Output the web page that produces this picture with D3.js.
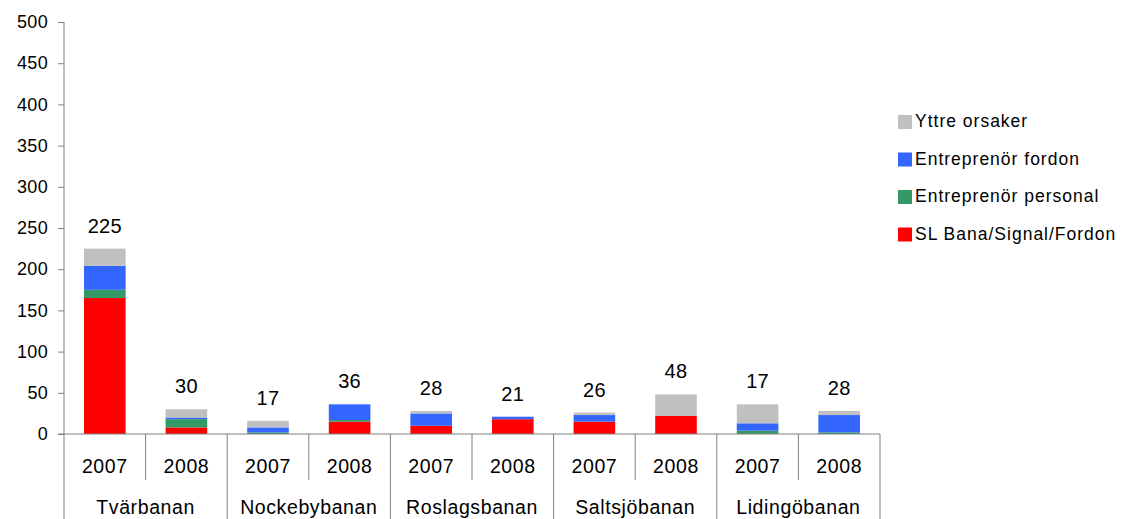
<!DOCTYPE html>
<html><head><meta charset="utf-8">
<script src="https://cdn.jsdelivr.net/npm/d3@7"></script>
<style>
html,body{margin:0;padding:0;background:#fff;}
svg{display:block;font-family:"Liberation Sans",Arial,sans-serif;}
</style></head>
<body><svg id="c" width="1121" height="519"></svg>
<script>
const groups = ["Tvärbanan","Nockebybanan","Roslagsbanan","Saltsjöbanan","Lidingöbanan"];
const years = ["2007","2008"];
const seriesNames = ["SL Bana/Signal/Fordon","Entreprenör personal","Entreprenör fordon","Yttre orsaker"];
const slBana     = [165, 8, 0, 15, 10, 18, 15, 22, 0, 0];
const entPersonal= [10, 10, 2, 2, 0, 0, 0, 0, 4, 2];
const entFordon  = [29, 2, 6, 19, 15, 3, 8, 0, 9, 21];
const yttre      = [21, 10, 8, 0, 3, 0, 3, 26, 23, 5];
const valueLabels= [225, 30, 17, 36, 28, 21, 26, 48, 17, 28];
const yTicks = [0,50,100,150,200,250,300,350,400,450,500];
const colors = ["#FF0000","#339966","#3366FF","#C0C0C0"];

const svg = d3.select("#c");
const L=64, R=880, T=22, B=434;
const cats = [];
groups.forEach((g,gi)=>years.forEach((y,yi)=>cats.push(gi*2+yi)));
const x = d3.scaleBand().domain(cats).range([L,R]).paddingInner(0.49).paddingOuter(0.245);
const xb = d3.scaleBand().domain(cats).range([L,R]);
const y = d3.scaleLinear().domain([0,500]).range([B,T]);

const rows = cats.map(i=>({i, sl:slBana[i], ep:entPersonal[i], ef:entFordon[i], yt:yttre[i]}));
const stack = d3.stack().keys(["sl","ep","ef","yt"])(rows);
svg.append("g").selectAll("g").data(stack).join("g").attr("fill",(d,k)=>colors[k])
  .selectAll("rect").data(d=>d).join("rect")
  .attr("x",d=>x(d.data.i)).attr("width",x.bandwidth())
  .attr("y",d=>y(d[1])).attr("height",d=>y(d[0])-y(d[1]));

// value labels
svg.append("g").selectAll("text").data(rows).join("text")
  .attr("x",d=>x(d.i)+x.bandwidth()/2)
  .attr("y",d=>y(d.sl+d.ep+d.ef+d.yt)-16)
  .attr("text-anchor","middle").attr("font-size",20).attr("letter-spacing","0.3px").attr("fill","#000")
  .text(d=>valueLabels[d.i]);

// y axis
const axisColor="#808080";
const ya = svg.append("g").attr("transform",`translate(${L},0)`)
  .call(d3.axisLeft(y).tickValues(yTicks).tickSize(6).tickPadding(10));
ya.select(".domain").remove();
ya.selectAll(".tick line").attr("stroke",axisColor);
ya.selectAll(".tick text").attr("font-size",18).attr("letter-spacing","0.3px").attr("fill","#000").attr("font-family","Liberation Sans, Arial, sans-serif");
svg.append("line").attr("x1",L).attr("x2",L).attr("y1",T).attr("y2",519).attr("stroke",axisColor);
svg.append("line").attr("x1",L-6).attr("x2",R).attr("y1",B).attr("y2",B).attr("stroke",axisColor);

// category separators
cats.forEach(i=>{
  const xe = xb(i)+xb.bandwidth();
  const isGroupEnd = i%2===1;
  svg.append("line").attr("x1",xe).attr("x2",xe).attr("y1",B).attr("y2",isGroupEnd?519:480).attr("stroke",axisColor);
});
svg.append("g").selectAll("text").data(cats).join("text")
  .attr("x",i=>xb(i)+xb.bandwidth()/2).attr("y",473)
  .attr("text-anchor","middle").attr("font-size",19.5).attr("letter-spacing","0.6px").attr("fill","#000")
  .text(i=>years[i%2]);
svg.append("g").selectAll("text").data(groups).join("text")
  .attr("x",(g,gi)=>xb(gi*2)+xb.bandwidth()).attr("y",514)
  .attr("text-anchor","middle").attr("font-size",19.5).attr("letter-spacing","0.6px").attr("fill","#000")
  .text(g=>g);

// legend
const legOrder=[3,2,1,0];
const lg = svg.append("g");
legOrder.forEach((k,r)=>{
  const cy = 121 + r*37.5;
  lg.append("rect").attr("x",898).attr("y",cy-6).attr("width",14).attr("height",14).attr("fill",colors[k]);
  lg.append("text").attr("x",915).attr("y",cy+6).attr("font-size",17.5).attr("letter-spacing","1px").attr("fill","#000").text(seriesNames[k]);
});
</script></body></html>
